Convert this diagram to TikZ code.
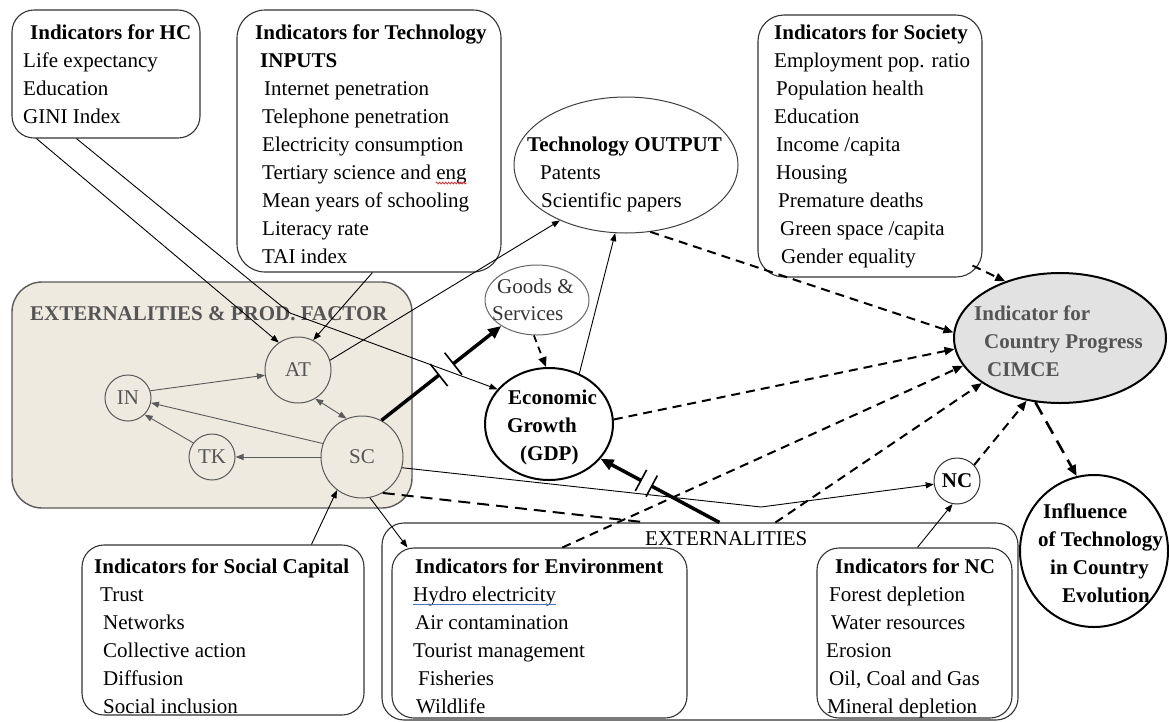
\documentclass[tikz,border=0pt]{standalone}
\usepackage{fontspec}
\setmainfont{Liberation Serif}
\usetikzlibrary{arrows.meta,shapes.geometric,calc,decorations.pathmorphing}
\definecolor{beige}{RGB}{238,234,224}
\definecolor{beigeline}{RGB}{90,90,90}
\definecolor{graytext}{RGB}{85,85,85}
\definecolor{cimcefill}{RGB}{226,226,226}
\definecolor{wordblue}{RGB}{68,114,196}
\definecolor{wordred}{RGB}{220,40,40}
\newcommand\tx[4][]{\node[txt,#1] (#2) at (#3) {#4};}
\begin{document}
\begin{tikzpicture}[x=1pt,y=-1pt,
  txt/.style={inner sep=0pt, anchor=base west, font=\fontsize{21}{28}\selectfont},
  bold/.style={font=\fontsize{21}{28}\selectfont\bfseries},
  gtext/.style={text=graytext},
  box/.style={draw=black!80, line width=1.1pt, rounded corners=22pt, inner sep=0pt},
  ell/.style={ellipse, draw, inner sep=0pt},
  circ/.style={circle, draw=beigeline, fill=beige, line width=1pt, inner sep=0pt, text=graytext, font=\fontsize{21}{28}\selectfont},
  arr/.style={-{Triangle[length=8pt,width=6pt]}, line width=0.9pt},
  garr/.style={arr, draw=beigeline},
  darr/.style={-{Triangle[length=10pt,width=8pt]}, line width=2pt, dash pattern=on 9pt off 6pt},
  darrb/.style={-{Triangle[length=11pt,width=9pt]}, line width=2.6pt, dash pattern=on 14pt off 8pt},
  dline/.style={line width=2pt, dash pattern=on 12pt off 7pt},
  thickline/.style={line width=3.5pt},
  thickarr/.style={-{Triangle[length=13pt,width=11pt]}, line width=3.5pt},
  barline/.style={line width=1.6pt}
]
\useasboundingbox (0,0) rectangle (1169,721);
\fill[white] (0,0) rectangle (1169,721);
\clip (0,0) rectangle (1169,721);

% ---------- boxes ----------
\node[box, minimum width=188pt, minimum height=128pt] (hcbox) at (106,74) {};
\node[box, rounded corners=28pt, minimum width=264pt, minimum height=262pt] (techbox) at (369,141) {};
\node[box, rounded corners=26pt, minimum width=224pt, minimum height=262pt] (socbox) at (870,146) {};
\node[draw=beigeline, fill=beige, line width=1.4pt, rounded corners=30pt, inner sep=0pt, minimum width=400pt, minimum height=226pt] (beigebox) at (212,395) {};
\node[box, minimum width=282pt, minimum height=170pt] (scbox) at (223,630) {};
\node[box, minimum width=636pt, minimum height=197pt] (extbox) at (700,621.5) {};
\node[box, minimum width=295pt, minimum height=170pt] (envbox) at (539.5,633) {};
\node[box, minimum width=195pt, minimum height=170pt] (ncbox) at (914.5,633) {};

% ---------- ellipses ----------
\node[ell, draw=black!75, line width=1pt, minimum width=224pt, minimum height=136pt] (techout) at (626,165) {};
\node[ell, draw=black!60, line width=1pt, minimum width=104pt, minimum height=70pt] (goods) at (537,300) {};
\node[ell, draw=black, line width=2pt, minimum width=128pt, minimum height=112pt] (gdp) at (549,424) {};
\node[ell, draw=black, fill=cimcefill, line width=2pt, minimum width=212pt, minimum height=130pt] (cimce) at (1060,338) {};
\node[ell, draw=black, line width=2pt, minimum width=148pt, minimum height=152pt] (infl) at (1094,551) {};
\node[circle, draw=black!80, line width=1pt, minimum size=46pt, inner sep=0pt, bold] (nc) at (957,481) {NC};

% ---------- beige content ----------
\tx[bold,gtext]{beiget}{30,320}{EXTERNALITIES \& PROD. FACTOR}
\node[circ, minimum size=66pt] (at) at (298,370) {AT};
\node[circ, minimum size=46pt] (in) at (128,398) {IN};
\node[circ, minimum size=46pt] (tk) at (212,457) {TK};
\node[circ, minimum size=82pt] (sc) at (362,457) {SC};

% ---------- texts ----------
\tx[bold]{hct}{30,39}{Indicators for HC}
\tx{hc1}{23,67}{Life expectancy}
\tx{hc2}{23,95}{Education}
\tx{hc3}{23,123}{GINI Index}

\tx[bold]{tet}{255,39}{Indicators for Technology}
\tx[bold]{tei}{260,67}{INPUTS}
\tx{te1}{264,95}{Internet penetration}
\tx{te2}{262,123}{Telephone penetration}
\tx{te3}{262,151}{Electricity consumption}
\tx{te4}{262,179}{Tertiary science and eng}
\tx{te5}{262,207}{Mean years of schooling}
\tx{te6}{262,235}{Literacy rate}
\tx{te7}{262,263}{TAI index}

\tx[bold]{tot}{527,151}{Technology OUTPUT}
\tx{to1}{540,179}{Patents}
\tx{to2}{541,207}{Scientific papers}

\tx[bold]{sot}{774,39}{Indicators for Society}
\tx{so1}{774,67}{Employment pop. ratio}
\tx{so2}{776,95}{Population health}
\tx{so3}{774,123}{Education}
\tx{so4}{776,151}{Income /capita}
\tx{so5}{776,179}{Housing}
\tx{so6}{778,207}{Premature deaths}
\tx{so7}{780,235}{Green space /capita}
\tx{so8}{781,263}{Gender equality}

\tx[text=black!80]{gs1}{497,293}{Goods \&}
\tx[text=black!80]{gs2}{492,320}{Services}

\tx[bold]{gd1}{508,404}{Economic}
\tx[bold]{gd2}{507,432}{Growth}
\tx[bold]{gd3}{520,460}{(GDP)}

\tx[bold,gtext]{ci1}{974,320}{Indicator for}
\tx[bold,gtext]{ci2}{984,348}{Country Progress}
\tx[bold,gtext]{ci3}{987,376}{CIMCE}

\tx[bold]{if1}{1043,518}{Influence}
\tx[bold]{if2}{1038,546}{of Technology}
\tx[bold]{if3}{1050,574}{in Country}
\tx[bold]{if4}{1062,602}{Evolution}

\tx{extt}{645,545}{EXTERNALITIES}

\tx[bold]{sct}{94,573}{Indicators for Social Capital}
\tx{sc1}{100,601}{Trust}
\tx{sc2}{103,629}{Networks}
\tx{sc3}{103,657}{Collective action}
\tx{sc4}{103,685}{Diffusion}
\tx{sc5}{103,713}{Social inclusion}

\tx[bold]{ent}{415,573}{Indicators for Environment}
\tx{en1}{413,601}{Hydro electricity}
\tx{en2}{415,629}{Air contamination}
\tx{en3}{413,657}{Tourist management}
\tx{en4}{418,685}{Fisheries}
\tx{en5}{416,713}{Wildlife}

\tx[bold]{nct}{835,573}{Indicators for NC}
\tx{nc1}{829,601}{Forest depletion}
\tx{nc2}{831,629}{Water resources}
\tx{nc3}{826,657}{Erosion}
\tx{nc4}{829,685}{Oil, Coal and Gas}
\tx{nc5}{827,713}{Mineral depletion}

% spell-check marks
\draw[wordred, line width=0.7pt, decorate, decoration={snake, amplitude=1pt, segment length=3pt}] ([xshift=-31pt,yshift=-4pt]te4.base east) -- ([yshift=-4pt]te4.base east);
\draw[wordblue, line width=1pt] ([yshift=-3.5pt]en1.base west) -- ([yshift=-3.5pt]en1.base east);

% ---------- coordinates on box borders ----------
\coordinate (hcA) at ($(hcbox.south west)+(25,0)$);
\coordinate (hcB) at ($(hcbox.south west)+(65,0)$);
\coordinate (hcBend) at (290,313);
\coordinate (teA) at ($(techbox.south west)+(136,0)$);
\coordinate (soA) at ($(socbox.south east)+(-10,-12)$);
\coordinate (envA) at ($(envbox.north west)+(171,0)$);
\coordinate (envB) at ($(envbox.north west)+(16,0)$);
\coordinate (extA) at ($(extbox.north west)+(338,0)$);
\coordinate (extB) at ($(extbox.north west)+(394,0)$);
\coordinate (extC) at ($(extbox.north west)+(265,0)$);
\coordinate (ncA) at ($(ncbox.north west)+(101,0)$);
\coordinate (scbA) at ($(scbox.north west)+(230,0)$);
\coordinate (bend) at (761,507);

% ---------- connectors ----------
\draw[arr] (hcA) -- (at.125);
\draw[arr] (hcB) -- (hcBend) -- (gdp.146);
\draw[arr] (teA) -- (at.63);
\draw[arr] (at.17) -- (techout.220);

\draw[garr] (in.18) -- (at.189);
\draw[garr] (sc.161) -- (in.-12);
\draw[garr] (tk.143) -- (in.-45);
\draw[garr] (sc.180) -- (tk.0);
\draw[line width=0.9pt, draw=beigeline, {Triangle[length=8pt,width=6pt]}-{Triangle[length=8pt,width=6pt]}] (at.-59) -- (sc.112);

% thick SC -> goods with break
\coordinate (g1) at ($(sc.62)!0.48!(goods.216)$);
\coordinate (g2) at ($(sc.62)!0.60!(goods.216)$);
\draw[thickline] (sc.62) -- (g1);
\draw[thickarr] (g2) -- (goods.216);
\draw[barline] ($(g1)!14pt!90:(goods.216)$) -- ($(g1)!14pt!-90:(goods.216)$);
\draw[barline] ($(g2)!14pt!90:(goods.216)$) -- ($(g2)!14pt!-90:(goods.216)$);

% thick externalities -> GDP with break
\coordinate (e1) at ($(extA)!0.57!(gdp.-34)$);
\coordinate (e2) at ($(extA)!0.66!(gdp.-34)$);
\draw[thickline] (extA) -- (e1);
\draw[thickarr] (e2) -- (gdp.-34);
\draw[barline] ($(e1)!12pt!90:(gdp.-34)$) -- ($(e1)!12pt!-90:(gdp.-34)$);
\draw[barline] ($(e2)!12pt!90:(gdp.-34)$) -- ($(e2)!12pt!-90:(gdp.-34)$);

\draw[darr, line width=1.8pt, dash pattern=on 7pt off 5pt] (goods.-95) -- (gdp.93);
\draw[arr] (gdp.59) -- (techout.261);

\draw[darr] (techout.-70) -- (cimce.177);
\draw[darr] (soA) -- (cimce.134);
\draw[darr] (gdp.4) -- (cimce.186);
\draw[darr] (envA) -- (cimce.196);
\draw[darr] (extB) -- (cimce.210);
\draw[darr] (nc.43) -- (cimce.242);
\draw[darrb] (cimce.249) -- (infl.103);

\draw[dline] (sc.-60) -- (extC);
\draw[arr] (sc.-15) -- (bend) -- (nc.188);
\draw[arr] (ncA) -- (nc.259);
\draw[arr] (sc.-79) -- (envB);
\draw[arr] (scbA) -- (sc.233);
\end{tikzpicture}
\end{document}
